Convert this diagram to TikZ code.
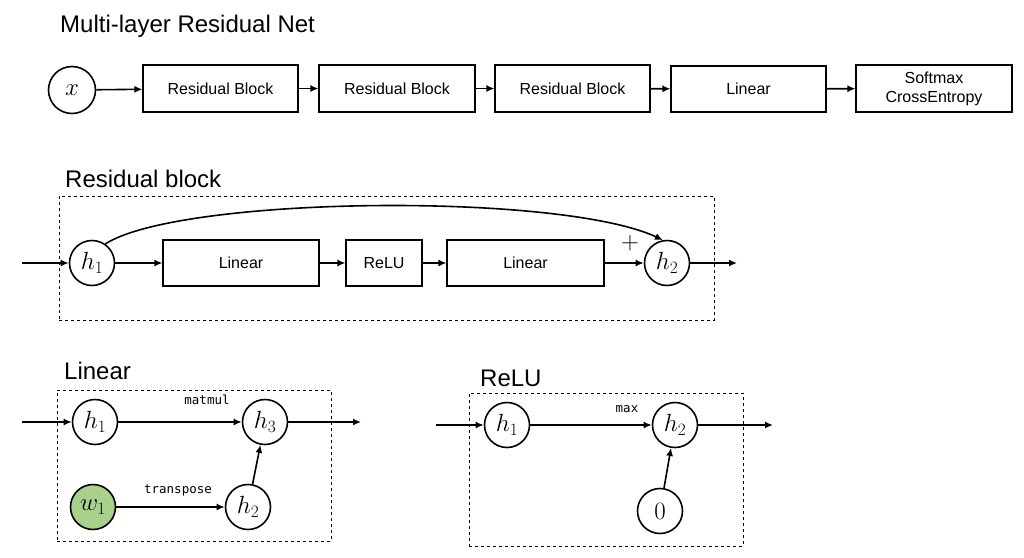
\documentclass[tikz,border=0pt]{standalone}
\usepackage{fontspec}
\setmainfont{Liberation Sans}
\setmonofont{DejaVu Sans Mono}
\usetikzlibrary{arrows.meta}
\definecolor{wgreen}{RGB}{169,209,142}
\tikzset{
  box/.style={draw, line width=1.1pt, inner sep=0pt, font=\fontsize{16}{19}\selectfont, align=center},
  var/.style={draw, circle, line width=1.6pt, minimum size=45pt, inner sep=0pt, font=\fontsize{26}{28}\selectfont},
  arr/.style={line width=1.6pt, -{Latex[length=8pt,width=7pt]}},
  frame/.style={draw, dashed, line width=1pt},
  ttl/.style={font=\fontsize{24}{28}\selectfont, anchor=base west, inner sep=0pt},
  op/.style={font=\ttfamily\fontsize{12.5}{14}\selectfont, inner sep=0pt},
}
\begin{document}
\begin{tikzpicture}[x=1pt,y=-1pt]
\useasboundingbox (0,0) rectangle (1024,557);

% ---- Multi-layer Residual Net
\node[ttl] (t1) at (60,32) {Multi-layer Residual Net};
\node[var, minimum size=47pt] (x) at (72,90) {$x$};
\node[box, minimum width=155pt, minimum height=47pt] (rb1) at (220.5,88.5) {Residual Block};
\node[box, minimum width=156pt, minimum height=47pt] (rb2) at (397,88.5) {Residual Block};
\node[box, minimum width=155pt, minimum height=47pt] (rb3) at (572.5,88.5) {Residual Block};
\node[box, minimum width=155pt, minimum height=46pt] (lin) at (748.5,89) {Linear};
\node[box, minimum width=156pt, minimum height=47pt] (sm) at (934,88.5) {Softmax\\CrossEntropy};
\draw[arr] (x) -- (rb1);
\draw[arr] (rb1) -- (rb2);
\draw[arr] (rb2) -- (rb3);
\draw[arr] (rb3) -- (lin);
\draw[arr] (lin) -- (sm);

% ---- Residual block
\node[ttl] (t2) at (65,187) {Residual block};
\node[frame, minimum width=655pt, minimum height=124pt, inner sep=0pt] (f2) at (386.5,258) {};
\coordinate (rin) at (22,263);
\coordinate (rout) at (737,263);
\node[var] (rh1) at (92,263) {$h_1$};
\node[box, minimum width=156pt, minimum height=46pt] (rl1) at (241,263) {Linear};
\node[box, minimum width=76pt, minimum height=46pt] (rr) at (384,263) {ReLU};
\node[box, minimum width=157pt, minimum height=46pt] (rl2) at (525.5,263) {Linear};
\node[var] (rh2) at (667,263) {$h_2$};
\node[font=\fontsize{28}{30}\selectfont, inner sep=0pt] (plus) at (630,243) {$+$};
\draw[arr] (rin) -- (rh1);
\draw[arr] (rh1) -- (rl1);
\draw[arr] (rl1) -- (rr);
\draw[arr] (rr) -- (rl2);
\draw[arr] (rl2) -- (rh2);
\draw[arr] (rh2) -- (rout);
\draw[arr] (rh1.55) .. controls (180,196) and (560,192) .. (rh2.100);

% ---- Linear
\node[ttl] (t3) at (64,379) {Linear};
\node[frame, minimum width=274pt, minimum height=151pt, inner sep=0pt] (f3) at (194,465.5) {};
\coordinate (lin_in) at (22,422);
\coordinate (lin_out) at (361,422);
\node[var] (lh1) at (95,422) {$h_1$};
\node[var] (lh3) at (265,422) {$h_3$};
\node[var, fill=wgreen] (lw1) at (93,507) {$w_1$};
\node[var] (lh2) at (248,507) {$h_2$};
\node[op] (mm) at (207,400) {matmul};
\node[op] (tp) at (178,490) {transpose};
\draw[arr] (lin_in) -- (lh1);
\draw[arr] (lh1) -- (lh3);
\draw[arr] (lh3) -- (lin_out);
\draw[arr] (lw1) -- (lh2);
\draw[arr] (lh2) -- (lh3);

% ---- ReLU
\node[ttl] (t4) at (480,386) {ReLU};
\node[frame, minimum width=274pt, minimum height=153pt, inner sep=0pt] (f4) at (606,469.5) {};
\coordinate (re_in) at (436,425);
\coordinate (re_out) at (773,425);
\node[var] (eh1) at (507,425) {$h_1$};
\node[var] (eh2) at (675,425) {$h_2$};
\node[var] (ez) at (660,511) {$0$};
\node[op] (mx) at (627,409) {max};
\draw[arr] (re_in) -- (eh1);
\draw[arr] (eh1) -- (eh2);
\draw[arr] (eh2) -- (re_out);
\draw[arr] (ez) -- (eh2);
\end{tikzpicture}
\end{document}
